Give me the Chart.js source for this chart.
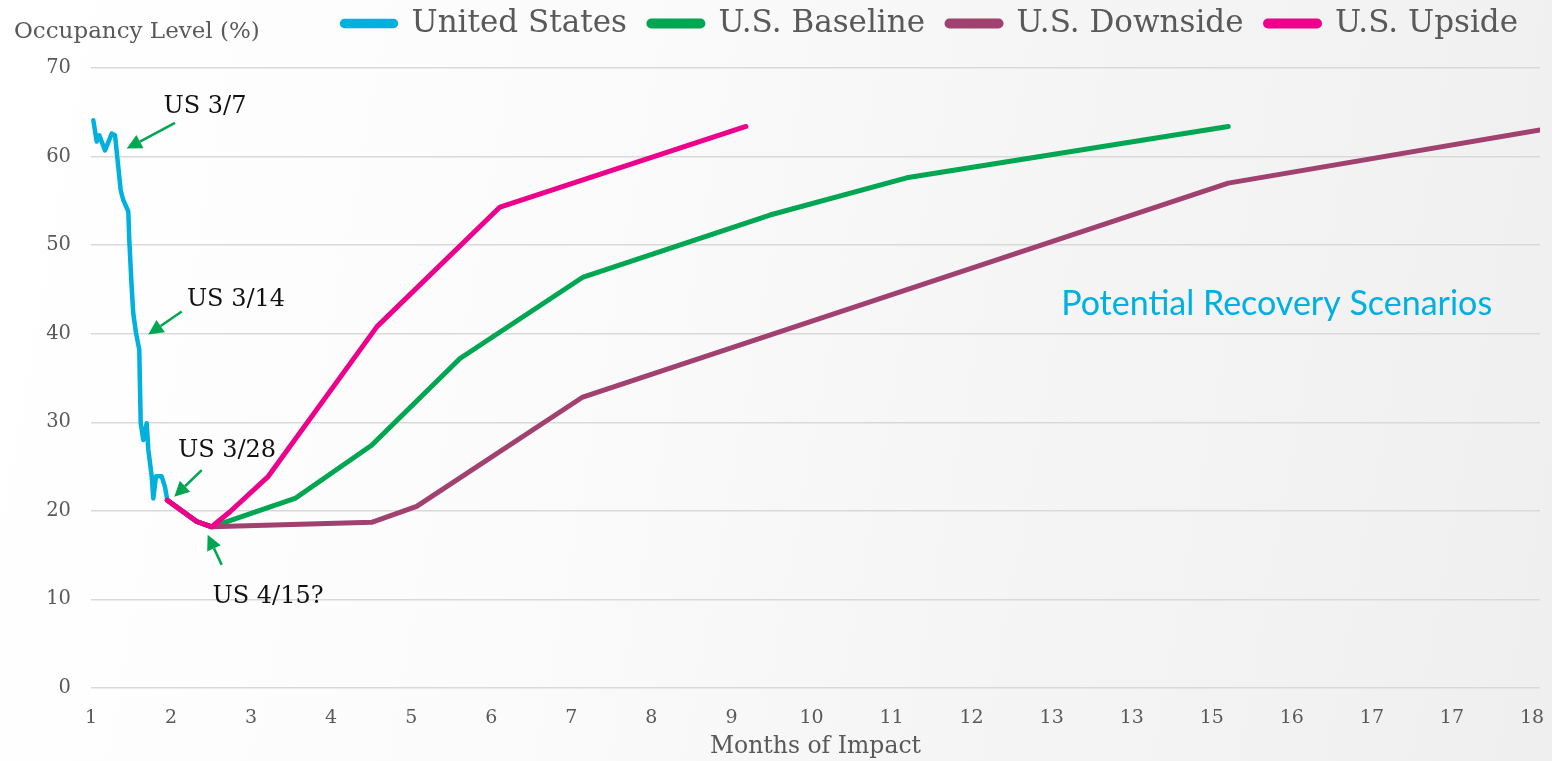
<!DOCTYPE html>
<html>
<head>
<meta charset="utf-8">
<title>Occupancy Level – Recovery Scenarios</title>
<script src="https://cdn.jsdelivr.net/npm/chart.js@4.4.1/dist/chart.umd.min.js"></script>
<style>
  html, body { margin: 0; padding: 0; }
  body {
    width: 1552px; height: 761px; overflow: hidden;
    background: linear-gradient(100deg, #ffffff 0%, #fcfcfc 30%, #f5f5f5 65%, #efefef 100%);
  }
  #wrap { position: relative; width: 1552px; height: 761px; }
</style>
</head>
<body>
<div id="wrap"><canvas id="chart"></canvas></div>
<script>
// Tick labels along the "Months of Impact" axis (one per axis step)
const monthTicks = ['1','2','3','4','5','6','7','8','9','10','11','12','13','13','15','16','17','17','18'];

// United States daily occupancy (axis position, %)
const usPos = [0.029,0.071,0.104,0.175,0.259,0.300,0.371,0.403,0.466,0.478,0.508,0.528,0.562,0.603,0.621,0.653,0.696,0.716,0.758,0.778,0.812,0.883,0.924,0.953];
const usOcc = [64.1,61.7,62.4,60.7,62.6,62.4,56.2,55.1,53.8,50.6,45.3,42.3,40.1,38.2,29.9,28.0,29.9,26.9,23.9,21.4,23.9,23.9,22.7,21.2];

// Scenario paths
const baselinePos = [0.953,1.320,1.508,2.548,3.506,4.609,6.149,8.481,10.189,14.206];
const baselineOcc = [21.2,18.8,18.2,21.4,27.4,37.2,46.4,53.4,57.6,63.4];

const downsidePos = [0.953,1.320,1.508,3.506,4.068,6.133,14.206,18.10];
const downsideOcc = [21.2,18.8,18.2,18.7,20.5,32.8,57.0,63.0];

const upsidePos = [0.953,1.320,1.508,1.736,2.215,3.572,5.109,8.181];
const upsideOcc = [21.2,18.8,18.2,19.9,23.9,40.8,54.3,63.4];

// Callouts: label anchor, arrow tail and arrow tip (axis position, %)
const calloutText = ['US 3/7','US 3/14','US 3/28','US 4/15?'];
const calloutAt   = [[1.424,65.6],[1.811,43.8],[1.699,26.8],[2.211,10.3]];
const calloutFrom = [[1.049,63.8],[1.133,42.5],[1.383,24.6],[1.633,13.9]];
const calloutTo   = [[0.446,60.9],[0.716,39.9],[1.040,21.6],[1.457,17.3]];

const pts = (xs, ys) => xs.map((x, i) => ({ x, y: ys[i] }));

const SERIF = '"DejaVu Serif", "Liberation Serif", serif';
const GREY = '#595959';

const line = (label, data, color, order, width) => ({
  label, data, order,
  borderColor: color, backgroundColor: color,
  borderWidth: width, pointRadius: 0, pointHoverRadius: 0,
  borderJoinStyle: 'round', borderCapStyle: 'round',
  tension: 0, fill: false
});

const overlay = {
  id: 'overlay',
  afterDraw(chart) {
    const { ctx, scales: { x, y } } = chart;
    ctx.save();
    // axis caption, top left
    ctx.fillStyle = GREY;
    ctx.font = '23px ' + SERIF;
    ctx.textAlign = 'left';
    ctx.textBaseline = 'middle';
    ctx.fillText('Occupancy Level (%)', 14, 32);

    // scenario caption
    ctx.fillStyle = '#00b0e0';
    ctx.font = '34px Lato, "Open Sans", sans-serif';
    ctx.textAlign = 'center';
    ctx.fillText('Potential Recovery Scenarios', x.getPixelForValue(14.81), y.getPixelForValue(43.36));

    // callouts with arrows
    calloutText.forEach((t, i) => {
      ctx.fillStyle = '#111';
      ctx.font = '24px ' + SERIF;
      ctx.textAlign = 'center';
      ctx.textBaseline = 'middle';
      ctx.fillText(t, x.getPixelForValue(calloutAt[i][0]), y.getPixelForValue(calloutAt[i][1]));

      const x0 = x.getPixelForValue(calloutFrom[i][0]), y0 = y.getPixelForValue(calloutFrom[i][1]);
      const x1 = x.getPixelForValue(calloutTo[i][0]),   y1 = y.getPixelForValue(calloutTo[i][1]);
      const ang = Math.atan2(y1 - y0, x1 - x0);
      const head = 15, half = 7.5;
      const bx = x1 - head * Math.cos(ang), by = y1 - head * Math.sin(ang);
      ctx.strokeStyle = '#00a651';
      ctx.fillStyle = '#00a651';
      ctx.lineWidth = 2.5;
      ctx.beginPath();
      ctx.moveTo(x0, y0);
      ctx.lineTo(bx, by);
      ctx.stroke();
      ctx.beginPath();
      ctx.moveTo(x1, y1);
      ctx.lineTo(bx + half * Math.sin(ang), by - half * Math.cos(ang));
      ctx.lineTo(bx - half * Math.sin(ang), by + half * Math.cos(ang));
      ctx.closePath();
      ctx.fill();
    });
    ctx.restore();
  }
};

new Chart(document.getElementById('chart'), {
  type: 'line',
  data: {
    datasets: [
      line('United States', pts(usPos, usOcc), '#00b0dd', 1, 4.5),
      line('U.S. Baseline', pts(baselinePos, baselineOcc), '#00a651', 3, 5),
      line('U.S. Downside', pts(downsidePos, downsideOcc), '#a0416f', 2, 5),
      line('U.S. Upside', pts(upsidePos, upsideOcc), '#ec008c', 0, 5)
    ]
  },
  options: {
    responsive: true,
    maintainAspectRatio: false,
    animation: false,
    events: [],
    layout: { padding: { top: -14, right: 12, bottom: 0, left: 0 } },
    plugins: {
      tooltip: { enabled: false },
      legend: {
        position: 'top',
        align: 'end',
        labels: {
          color: GREY,
          font: { family: SERIF, size: 31 },
          boxWidth: 54,
          boxHeight: 5,
          useBorderRadius: true,
          borderRadius: 2.5,
          padding: 22,
          sort: (a, b) => a.datasetIndex - b.datasetIndex
        }
      },
      // blank band between the legend row and the plot
      title: {
        display: true,
        text: ' ',
        weight: 500,
        font: { size: 10, lineHeight: 1 },
        padding: { top: 9, bottom: 0 }
      }
    },
    scales: {
      x: {
        type: 'linear',
        min: 0,
        max: 18.1,
        afterBuildTicks: (s) => { s.ticks = monthTicks.map((_, i) => ({ value: i })); },
        afterFit: (s) => { s.height = 73; s.paddingLeft = 0; s.paddingRight = 0; },
        grid: { display: false, drawTicks: false },
        border: { display: false },
        ticks: {
          autoSkip: false, maxRotation: 0, padding: 19,
          color: GREY, font: { family: SERIF, size: 19 },
          callback: (v) => monthTicks[v]
        },
        title: {
          display: true, text: 'Months of Impact',
          color: GREY, font: { family: SERIF, size: 23.5 },
          padding: { top: 0, bottom: 0 }
        }
      },
      y: {
        min: 0,
        max: 70,
        afterFit: (s) => { s.width = 91; },
        grid: { color: '#d9d9d9', lineWidth: 1.5, drawTicks: false },
        border: { display: false },
        ticks: {
          stepSize: 10, padding: 20,
          color: GREY, font: { family: SERIF, size: 19.5 }
        }
      }
    }
  },
  plugins: [overlay]
});
</script>
</body>
</html>
